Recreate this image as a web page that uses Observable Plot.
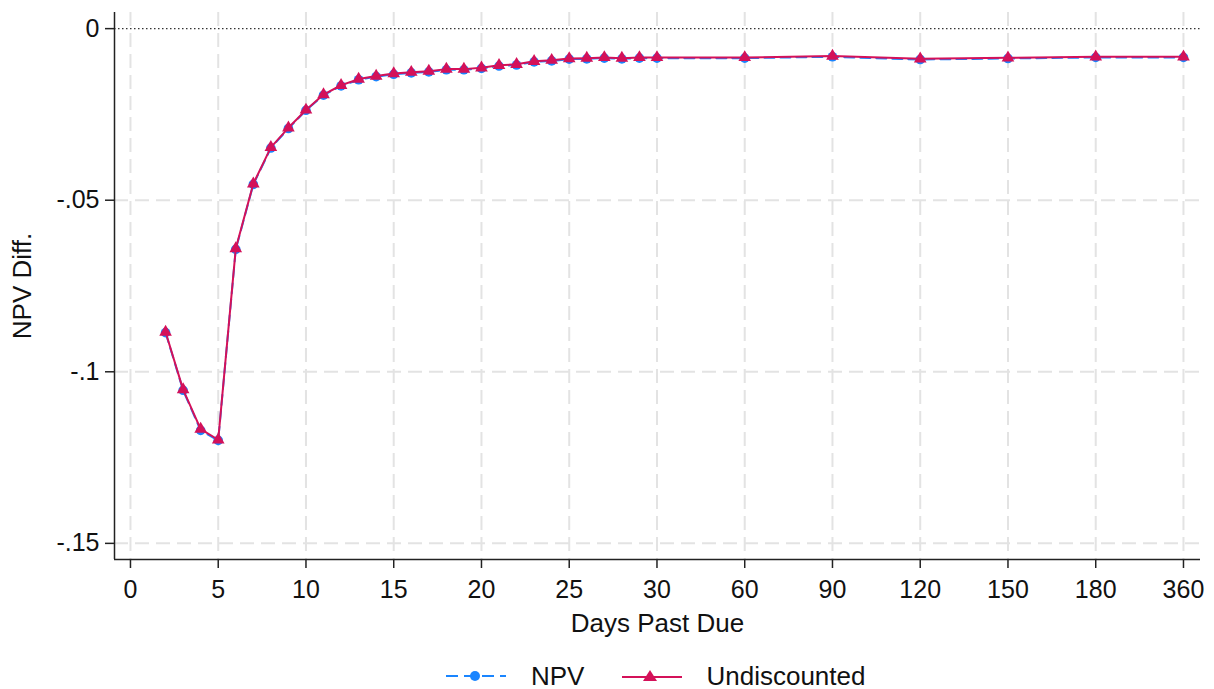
<!DOCTYPE html>
<html><head><meta charset="utf-8">
<script src="https://cdn.jsdelivr.net/npm/d3@7"></script>
<script src="https://cdn.jsdelivr.net/npm/@observablehq/plot@0.6"></script>
<style>
body{margin:0;background:#fff;font-family:"Liberation Sans",Arial,sans-serif;}
#wrap{position:relative;width:1214px;height:689px;}
#legend{position:absolute;left:446px;top:662px;height:28px;display:flex;align-items:center;font-size:26px;color:#111;}
#legend .sw{display:block;}
</style></head><body>
<div id="wrap"><div id="chart"></div>
<div id="legend">
  <svg class="sw" width="60" height="20"><line x1="0" y1="10" x2="60" y2="10" stroke="#1A85FF" stroke-width="2" stroke-dasharray="12,6"/><circle cx="29" cy="10" r="5" fill="#1A85FF"/></svg>
  <span style="margin-left:25px">NPV</span>
  <svg class="sw" style="margin-left:38px" width="60" height="20"><line x1="0" y1="11" x2="60" y2="11" stroke="#D41159" stroke-width="2"/><path d="M28,4 L35,15 L21,15 Z" fill="#D41159"/></svg>
  <span style="margin-left:24px">Undiscounted</span>
</div></div>
<script>
const days = [2,3,4,5,6,7,8,9,10,11,12,13,14,15,16,17,18,19,20,21,22,23,24,25,26,27,28,29,30,60,90,120,150,180,360];
const undiscounted = [-0.0884,-0.1052,-0.1167,-0.1198,-0.0641,-0.0452,-0.0346,-0.0289,-0.0237,-0.0192,-0.0165,-0.0147,-0.0138,-0.0131,-0.0127,-0.0124,-0.0118,-0.0118,-0.0114,-0.0107,-0.0104,-0.0095,-0.0092,-0.0087,-0.0086,-0.0084,-0.0086,-0.0084,-0.0084,-0.0084,-0.0080,-0.0088,-0.0085,-0.0082,-0.0082];
const npv = [-0.0886,-0.1054,-0.1171,-0.1200,-0.0643,-0.0454,-0.0348,-0.0291,-0.0238,-0.0194,-0.0167,-0.0149,-0.0140,-0.0133,-0.0129,-0.0126,-0.0120,-0.0120,-0.0116,-0.0109,-0.0106,-0.0097,-0.0094,-0.0089,-0.0088,-0.0086,-0.0088,-0.0086,-0.0086,-0.0086,-0.0082,-0.0090,-0.0087,-0.0084,-0.0084];
const xTickLabels = ["0","5","10","15","20","25","30","60","90","120","150","180","360"];
const longDays = [60,90,120,150,180,360];
const yTicks = [0,-0.05,-0.1,-0.15];
const yTickLabels = ["0","-.05","-.1","-.15"];

// equal spacing for the long horizons after 30 days
const pos = d => d <= 30 ? d : 30 + 5 * (longDays.indexOf(d) + 1);
const xTickPos = xTickLabels.map(l => pos(+l));
const undData = days.map((d, i) => ({x: pos(d), y: undiscounted[i]}));
const npvData = days.map((d, i) => ({x: pos(d), y: npv[i]}));
const xDomain = [-0.91, 60.97];
const yDomain = [-0.1547, 0.0047];

const grid = {stroke: "#e3e3e3", strokeOpacity: 1, strokeWidth: 2, strokeDasharray: "14,7"};

const chart = Plot.plot({
  width: 1214, height: 650,
  marginLeft: 114, marginRight: 14, marginTop: 12, marginBottom: 91,
  style: {fontFamily: "Liberation Sans, Arial, sans-serif", fontSize: "25px", color: "#111", background: "#fff"},
  x: {type: "linear", domain: xDomain, axis: null},
  y: {type: "linear", domain: yDomain, axis: null},
  marks: [
    Plot.ruleX(xTickPos, grid),
    Plot.ruleY(yTicks.filter(v => v !== 0), grid),
    Plot.ruleY([0], {stroke: "#333", strokeWidth: 1.4, strokeDasharray: "1.5,2.5"}),
    Plot.line(npvData, {x: "x", y: "y", stroke: "#1A85FF", strokeWidth: 2, strokeDasharray: "10,6"}),
    Plot.dot(npvData, {x: "x", y: "y", r: 4.8, fill: "#1A85FF", symbol: "circle"}),
    Plot.line(undData, {x: "x", y: "y", stroke: "#D41159", strokeWidth: 2}),
    Plot.dot(undData, {x: "x", y: "y", r: 4.7, fill: "#D41159", symbol: "triangle"}),
    Plot.ruleX([xDomain[0]], {stroke: "#222", strokeWidth: 1.5}),
    Plot.ruleY([yDomain[0]], {stroke: "#222", strokeWidth: 1.5}),
    Plot.axisX(xTickPos, {anchor: "bottom", tickSize: 9, tickPadding: 12, label: null, fontSize: 25,
      tickFormat: d => xTickLabels[xTickPos.indexOf(d)], stroke: "#222", strokeWidth: 1.5}),
    Plot.axisY(yTicks, {anchor: "left", tickSize: 9, tickPadding: 6, label: null, fontSize: 25,
      tickFormat: d => yTickLabels[yTicks.indexOf(d)], stroke: "#222", strokeWidth: 1.5}),
    Plot.text(["Days Past Due"], {text: d => d, frameAnchor: "bottom", lineAnchor: "middle", textAnchor: "middle", dy: 64, fontSize: 26, fill: "#111"}),
    Plot.text(["NPV Diff."], {text: d => d, frameAnchor: "left", lineAnchor: "middle", textAnchor: "middle", dx: -92, rotate: -90, fontSize: 26, fill: "#111"})
  ]
});
document.getElementById("chart").appendChild(chart);
</script>
</body></html>
